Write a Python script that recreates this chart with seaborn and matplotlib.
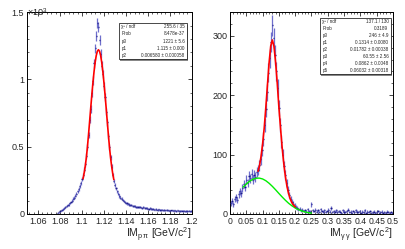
#!/usr/bin/env python3
"""Invariant mass fits: p pi (Lambda) and gamma gamma (pi0), ROOT-like look"""

import numpy as np
import pandas as pd
import matplotlib
matplotlib.use('Agg')
import matplotlib.pyplot as plt
from matplotlib.patches import Rectangle
from matplotlib.ticker import MultipleLocator
import seaborn as sns

# ---- left panel: IM(p pi), bins of 0.001 starting at 1.0775 ----
ppi_lo = 1.0775
ppi_width = 0.001
ppi_counts = [
    5, 12, 20, 26, 31, 38, 44, 50, 57, 64, 70, 80, 90, 98, 112, 120, 136, 150, 168, 186, 205, 232,
    262, 290, 330, 370, 430, 500, 585, 700, 780, 900, 990, 1120, 1230, 1320, 1420, 1390, 1290,
    1190, 1100, 1040, 950, 870, 760, 680, 580, 500, 420, 350, 290, 245,
    215, 190, 168, 150, 134, 122, 112, 104, 96, 88, 82, 78, 74, 70, 66, 64, 61, 58, 60, 55, 52,
    52, 50, 54, 48, 46, 50, 44, 42, 45, 40, 38, 42, 36, 38, 35, 33, 36, 32, 30, 34, 31, 29, 32,
    28, 30, 27, 29, 26, 28, 25, 27, 26, 24, 27, 25, 23, 26, 24, 22, 25, 24, 22, 24, 21, 23, 22,
    24, 20, 22, 21,
]
# fitted curve
ppi_fit_x = [1.101, 1.102, 1.103, 1.104, 1.105, 1.106, 1.107, 1.108, 1.109, 1.110, 1.111,
             1.112, 1.113, 1.114, 1.115, 1.116, 1.117, 1.118, 1.119, 1.120, 1.121, 1.122,
             1.123, 1.124, 1.125, 1.126, 1.127, 1.128, 1.129]
ppi_fit_y = [262, 305, 355, 420, 500, 592, 690, 790, 886, 977, 1058, 1126, 1177, 1209, 1220,
             1209, 1177, 1126, 1058, 977, 886, 790, 690, 592, 500, 420, 355, 300, 255]
ppi_stats = [("χ² / ndf", "255.6 / 35"), ("Prob", "8.478e-37"), ("p0", "1221 ± 5.6"),
             ("p1", "1.115 ± 0.000"), ("p2", "0.006580 ± 0.000058")]

# ---- right panel: IM(gamma gamma), bins of 0.004 starting at 0 ----
gg_lo = 0.0
gg_width = 0.004
gg_counts = [
    18, 22, 16, 25, 28, 24, 33, 38, 35, 44,
    50, 46, 58, 52, 64, 60, 68, 58, 66, 62,
    70, 74, 82, 92, 108, 126, 150, 176, 205, 238,
    262, 290, 318, 296, 268, 240, 212, 178, 150, 122,
    100, 80, 66, 52, 40, 32, 26, 20, 17, 14,
    12, 10, 8, 9, 6, 7, 5, 6, 4, 8,
    5, 4, 16, 6,
    5, 7, 4, 6, 3, 8, 5, 4, 6, 3, 5, 7, 4, 10, 3, 5, 4, 6, 3, 5, 4, 2, 6, 4, 3, 5, 7, 3, 4, 2,
    5, 3, 6, 4, 3, 5, 2, 4, 3, 6, 2, 4, 3, 5, 2, 3, 4, 2, 3, 5, 2, 3, 4, 2, 3, 2, 4, 3, 2, 3, 2,
]
gg_fit_x = [0.086, 0.090, 0.095, 0.100, 0.105, 0.110, 0.115, 0.120, 0.125, 0.130, 0.135, 0.140,
            0.145, 0.150, 0.155, 0.160, 0.165, 0.170, 0.175, 0.180, 0.185, 0.190, 0.195, 0.200]
gg_fit_y = [72, 80, 96, 118, 145, 180, 218, 255, 283, 293, 282, 255,
            220, 180, 145, 112, 85, 63, 46, 34, 25, 19, 15, 12]
gg_bkg_x = [0.04, 0.05, 0.06, 0.07, 0.08, 0.09, 0.10, 0.11, 0.12, 0.13, 0.14, 0.15, 0.16,
            0.17, 0.18, 0.19, 0.20, 0.21, 0.22, 0.23, 0.24, 0.25]
gg_bkg_y = [45.1, 50.6, 55.1, 58.4, 60.2, 60.4, 59.0, 56.0, 51.7, 46.5, 40.7, 34.6, 28.7,
            23.1, 18.0, 13.8, 10.2, 7.4, 5.2, 3.5, 2.3, 1.5]
gg_stats = [("χ² / ndf", "137.1 / 130"), ("Prob", "0.3189"), ("p0", "246 ± 4.9"),
            ("p1", "0.1314 ± 0.0080"), ("p2", "0.01782 ± 0.00038"), ("p3", "60.55 ± 2.56"),
            ("p4", "0.0862 ± 0.0048"), ("p5", "0.06032 ± 0.00318")]

DATA_COLOR = '#1c1c8c'
ERR_COLOR = '#6f6fcc'


def draw_hist(ax, lo, width, counts):
    """ROOT 'E' style histogram: error crosses"""
    counts = np.asarray(counts, dtype=float)
    centers = lo + width * (np.arange(len(counts)) + 0.5)
    err = np.sqrt(counts)
    ax.errorbar(centers, counts, yerr=err, fmt='none', ecolor=ERR_COLOR, elinewidth=0.9, zorder=2)
    ax.errorbar(centers, counts, xerr=width / 2, fmt='none', ecolor=DATA_COLOR, elinewidth=1.0, zorder=3)


def draw_stats(ax, rows, x0, x1, y0, y1):
    """Stat box like ROOT TPaveStats"""
    ax.add_patch(Rectangle((x0 + 0.008, y0 - 0.008), x1 - x0, y1 - y0, transform=ax.transAxes,
                           facecolor='#888888', edgecolor='none', zorder=5, clip_on=False))
    ax.add_patch(Rectangle((x0, y0), x1 - x0, y1 - y0, transform=ax.transAxes,
                           facecolor='white', edgecolor='black', lw=0.5, zorder=6, clip_on=False))
    h = (y1 - y0) / len(rows)
    for i, (name, val) in enumerate(rows):
        yc = y1 - h * (i + 0.5)
        ax.text(x0 + 0.015, yc, name, transform=ax.transAxes, fontsize=3.3, va='center', ha='left', zorder=7)
        ax.text(x1 - 0.015, yc, val, transform=ax.transAxes, fontsize=3.3, va='center', ha='right', zorder=7)


def style_axes(ax):
    ax.tick_params(which='both', direction='in', top=True, right=True, labelsize=6.5, pad=2)
    ax.tick_params(which='major', length=3.2, width=0.6)
    ax.tick_params(which='minor', length=1.7, width=0.5)
    for sp in ax.spines.values():
        sp.set_linewidth(0.7)
        sp.set_color('black')


sns.set_style('ticks')
plt.rcParams['font.family'] = ['Liberation Sans', 'DejaVu Sans']
plt.rcParams['mathtext.default'] = 'regular'

fig = plt.figure(figsize=(4.05, 2.49), dpi=100)
ax1 = fig.add_axes([0.0667, 0.1406, 0.407, 0.811])
ax2 = fig.add_axes([0.568, 0.1406, 0.402, 0.811])

# left panel
draw_hist(ax1, ppi_lo, ppi_width, ppi_counts)
sns.lineplot(x=ppi_fit_x, y=ppi_fit_y, ax=ax1, color='#ff0000', lw=1.2, zorder=4)
ax1.set_xlim(1.05, 1.2)
ax1.set_ylim(0, 1500)
ax1.xaxis.set_minor_locator(MultipleLocator(0.004))
ax1.set_xticks([1.06, 1.08, 1.1, 1.12, 1.14, 1.16, 1.18, 1.2])
ax1.set_xticklabels(['1.06', '1.08', '1.1', '1.12', '1.14', '1.16', '1.18', '1.2'])
ax1.set_yticks([0, 500, 1000, 1500])
ax1.set_yticklabels(['0', '0.5', '1', '1.5'])
ax1.yaxis.set_minor_locator(MultipleLocator(100))
style_axes(ax1)
ax1.text(0.0, 1.0, '×10$^3$', transform=ax1.transAxes, fontsize=6.5, ha='left', va='center')
ax1.text(1.0, -0.105, r'IM$_{p\,\pi}$ [GeV/c$^2$]', transform=ax1.transAxes,
         fontsize=7.5, ha='right', va='center')
draw_stats(ax1, ppi_stats, 0.558, 0.970, 0.767, 0.946)

# right panel
draw_hist(ax2, gg_lo, gg_width, gg_counts)
sns.lineplot(x=gg_bkg_x, y=gg_bkg_y, ax=ax2, color='#00ee00', lw=1.0, zorder=4)
sns.lineplot(x=gg_fit_x, y=gg_fit_y, ax=ax2, color='#ff0000', lw=1.2, zorder=4)
ax2.set_xlim(0, 0.5)
ax2.set_ylim(0, 340)
ax2.set_xticks(np.arange(0, 0.501, 0.05))
ax2.set_xticklabels(['0', '0.05', '0.1', '0.15', '0.2', '0.25', '0.3', '0.35', '0.4', '0.45', '0.5'])
ax2.xaxis.set_minor_locator(MultipleLocator(0.01))
ax2.set_yticks([0, 100, 200, 300])
ax2.yaxis.set_minor_locator(MultipleLocator(20))
style_axes(ax2)
ax2.tick_params(axis='x', labelsize=6.2)
ax2.text(1.0, -0.105, r'IM$_{\gamma\,\gamma}$ [GeV/c$^2$]', transform=ax2.transAxes,
         fontsize=7.5, ha='right', va='center')
draw_stats(ax2, gg_stats, 0.552, 0.988, 0.693, 0.970)

fig.savefig('out.png', dpi=100, facecolor='white')
